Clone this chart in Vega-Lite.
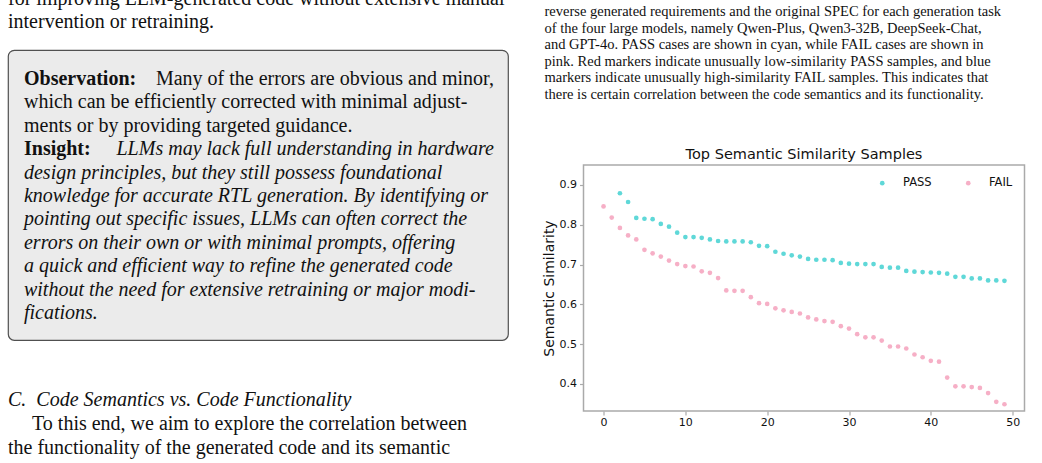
{
  "$schema": "https://vega.github.io/schema/vega-lite/v6.json",
  "padding": {"left": 7, "top": 0, "right": 0, "bottom": 0},
  "background": "white",
  "config": {"view": {"stroke": null}},
  "datasets": {
    "leftTop": [
      {"line": 1, "text": "for improving LLM-generated code without extensive manual"},
      {"line": 2, "text": "intervention or retraining."}
    ],
    "boxLead": [
      {"line": 1, "text": "Observation:"},
      {"line": 4, "text": "Insight:"}
    ],
    "boxLeadRest": [
      {"line": 1, "text": "Many of the errors are obvious and minor,"}
    ],
    "boxBody": [
      {"line": 2, "text": "which can be efficiently corrected with minimal adjust-"},
      {"line": 3, "text": "ments or by providing targeted guidance."}
    ],
    "boxInsightRest": [
      {"line": 4, "text": "LLMs may lack full understanding in hardware"}
    ],
    "boxInsight": [
      {"line": 5, "text": "design principles, but they still possess foundational"},
      {"line": 6, "text": "knowledge for accurate RTL generation. By identifying or"},
      {"line": 7, "text": "pointing out specific issues, LLMs can often correct the"},
      {"line": 8, "text": "errors on their own or with minimal prompts, offering"},
      {"line": 9, "text": "a quick and efficient way to refine the generated code"},
      {"line": 10, "text": "without the need for extensive retraining or major modi-"},
      {"line": 11, "text": "fications."}
    ],
    "heading": [
      {"line": 1, "text": "C.\u00a0\u00a0Code Semantics vs. Code Functionality"}
    ],
    "paragraphStart": [
      {"line": 2, "text": "To this end, we aim to explore the correlation between"}
    ],
    "paragraphBody": [
      {"line": 3, "text": "the functionality of the generated code and its semantic"}
    ],
    "caption": [
      {"line": 1, "text": "reverse generated requirements and the original SPEC for each generation task"},
      {"line": 2, "text": "of the four large models, namely Qwen-Plus, Qwen3-32B, DeepSeek-Chat,"},
      {"line": 3, "text": "and GPT-4o. PASS cases are shown in cyan, while FAIL cases are shown in"},
      {"line": 4, "text": "pink. Red markers indicate unusually low-similarity PASS samples, and blue"},
      {"line": 5, "text": "markers indicate unusually high-similarity FAIL samples. This indicates that"},
      {"line": 6, "text": "there is certain correlation between the code semantics and its functionality."}
    ],
    "samples": [
      {"rank": 2, "similarity": 0.879, "result": "PASS"},
      {"rank": 3, "similarity": 0.857, "result": "PASS"},
      {"rank": 4, "similarity": 0.817, "result": "PASS"},
      {"rank": 5, "similarity": 0.815, "result": "PASS"},
      {"rank": 6, "similarity": 0.814, "result": "PASS"},
      {"rank": 7, "similarity": 0.802, "result": "PASS"},
      {"rank": 8, "similarity": 0.795, "result": "PASS"},
      {"rank": 9, "similarity": 0.780, "result": "PASS"},
      {"rank": 10, "similarity": 0.769, "result": "PASS"},
      {"rank": 11, "similarity": 0.769, "result": "PASS"},
      {"rank": 12, "similarity": 0.767, "result": "PASS"},
      {"rank": 13, "similarity": 0.763, "result": "PASS"},
      {"rank": 14, "similarity": 0.759, "result": "PASS"},
      {"rank": 15, "similarity": 0.758, "result": "PASS"},
      {"rank": 16, "similarity": 0.758, "result": "PASS"},
      {"rank": 17, "similarity": 0.758, "result": "PASS"},
      {"rank": 18, "similarity": 0.756, "result": "PASS"},
      {"rank": 19, "similarity": 0.747, "result": "PASS"},
      {"rank": 20, "similarity": 0.746, "result": "PASS"},
      {"rank": 21, "similarity": 0.732, "result": "PASS"},
      {"rank": 22, "similarity": 0.727, "result": "PASS"},
      {"rank": 23, "similarity": 0.723, "result": "PASS"},
      {"rank": 24, "similarity": 0.720, "result": "PASS"},
      {"rank": 25, "similarity": 0.714, "result": "PASS"},
      {"rank": 26, "similarity": 0.712, "result": "PASS"},
      {"rank": 27, "similarity": 0.712, "result": "PASS"},
      {"rank": 28, "similarity": 0.711, "result": "PASS"},
      {"rank": 29, "similarity": 0.704, "result": "PASS"},
      {"rank": 30, "similarity": 0.702, "result": "PASS"},
      {"rank": 31, "similarity": 0.701, "result": "PASS"},
      {"rank": 32, "similarity": 0.701, "result": "PASS"},
      {"rank": 33, "similarity": 0.701, "result": "PASS"},
      {"rank": 34, "similarity": 0.694, "result": "PASS"},
      {"rank": 35, "similarity": 0.692, "result": "PASS"},
      {"rank": 36, "similarity": 0.692, "result": "PASS"},
      {"rank": 37, "similarity": 0.684, "result": "PASS"},
      {"rank": 38, "similarity": 0.682, "result": "PASS"},
      {"rank": 39, "similarity": 0.681, "result": "PASS"},
      {"rank": 40, "similarity": 0.680, "result": "PASS"},
      {"rank": 41, "similarity": 0.679, "result": "PASS"},
      {"rank": 42, "similarity": 0.677, "result": "PASS"},
      {"rank": 43, "similarity": 0.669, "result": "PASS"},
      {"rank": 44, "similarity": 0.669, "result": "PASS"},
      {"rank": 45, "similarity": 0.665, "result": "PASS"},
      {"rank": 46, "similarity": 0.665, "result": "PASS"},
      {"rank": 47, "similarity": 0.660, "result": "PASS"},
      {"rank": 48, "similarity": 0.660, "result": "PASS"},
      {"rank": 49, "similarity": 0.659, "result": "PASS"},
      {"rank": 0, "similarity": 0.846, "result": "FAIL"},
      {"rank": 1, "similarity": 0.818, "result": "FAIL"},
      {"rank": 2, "similarity": 0.792, "result": "FAIL"},
      {"rank": 3, "similarity": 0.773, "result": "FAIL"},
      {"rank": 4, "similarity": 0.763, "result": "FAIL"},
      {"rank": 5, "similarity": 0.737, "result": "FAIL"},
      {"rank": 6, "similarity": 0.728, "result": "FAIL"},
      {"rank": 7, "similarity": 0.720, "result": "FAIL"},
      {"rank": 8, "similarity": 0.710, "result": "FAIL"},
      {"rank": 9, "similarity": 0.701, "result": "FAIL"},
      {"rank": 10, "similarity": 0.696, "result": "FAIL"},
      {"rank": 11, "similarity": 0.695, "result": "FAIL"},
      {"rank": 12, "similarity": 0.683, "result": "FAIL"},
      {"rank": 13, "similarity": 0.679, "result": "FAIL"},
      {"rank": 14, "similarity": 0.666, "result": "FAIL"},
      {"rank": 15, "similarity": 0.635, "result": "FAIL"},
      {"rank": 16, "similarity": 0.634, "result": "FAIL"},
      {"rank": 17, "similarity": 0.634, "result": "FAIL"},
      {"rank": 18, "similarity": 0.618, "result": "FAIL"},
      {"rank": 19, "similarity": 0.603, "result": "FAIL"},
      {"rank": 20, "similarity": 0.601, "result": "FAIL"},
      {"rank": 21, "similarity": 0.590, "result": "FAIL"},
      {"rank": 22, "similarity": 0.585, "result": "FAIL"},
      {"rank": 23, "similarity": 0.581, "result": "FAIL"},
      {"rank": 24, "similarity": 0.577, "result": "FAIL"},
      {"rank": 25, "similarity": 0.567, "result": "FAIL"},
      {"rank": 26, "similarity": 0.562, "result": "FAIL"},
      {"rank": 27, "similarity": 0.558, "result": "FAIL"},
      {"rank": 28, "similarity": 0.556, "result": "FAIL"},
      {"rank": 29, "similarity": 0.545, "result": "FAIL"},
      {"rank": 30, "similarity": 0.539, "result": "FAIL"},
      {"rank": 31, "similarity": 0.525, "result": "FAIL"},
      {"rank": 32, "similarity": 0.517, "result": "FAIL"},
      {"rank": 33, "similarity": 0.517, "result": "FAIL"},
      {"rank": 34, "similarity": 0.509, "result": "FAIL"},
      {"rank": 35, "similarity": 0.494, "result": "FAIL"},
      {"rank": 36, "similarity": 0.494, "result": "FAIL"},
      {"rank": 37, "similarity": 0.489, "result": "FAIL"},
      {"rank": 38, "similarity": 0.474, "result": "FAIL"},
      {"rank": 39, "similarity": 0.467, "result": "FAIL"},
      {"rank": 40, "similarity": 0.458, "result": "FAIL"},
      {"rank": 41, "similarity": 0.456, "result": "FAIL"},
      {"rank": 42, "similarity": 0.416, "result": "FAIL"},
      {"rank": 43, "similarity": 0.394, "result": "FAIL"},
      {"rank": 44, "similarity": 0.394, "result": "FAIL"},
      {"rank": 45, "similarity": 0.392, "result": "FAIL"},
      {"rank": 46, "similarity": 0.390, "result": "FAIL"},
      {"rank": 47, "similarity": 0.377, "result": "FAIL"},
      {"rank": 48, "similarity": 0.355, "result": "FAIL"},
      {"rank": 49, "similarity": 0.349, "result": "FAIL"}
    ]
  },
  "resolve": {"legend": {"color": "independent"}},
  "spacing": 31.5,
  "hconcat": [
    {
      "spacing": 0,
      "bounds": "flush",
      "vconcat": [
        {
          "width": 500,
          "height": 50,
          "data": {"name": "leftTop"},
          "mark": {"type": "text", "align": "left", "baseline": "middle", "font": "Liberation Serif", "fontSize": 20, "color": "#111111", "clip": true},
          "encoding": {
            "x": {"datum": 0, "type": "quantitative", "scale": {"domain": [0, 1], "nice": false, "zero": false}, "axis": null},
            "y": {"field": "line", "type": "quantitative", "scale": {"domain": [1.04, 3.21], "reverse": true, "nice": false, "zero": false}, "axis": null},
            "text": {"field": "text"}
          }
        },
        {
          "width": 500,
          "height": 290,
          "view": {"fill": "#ebebeb", "stroke": "#505050", "strokeWidth": 1.2, "cornerRadius": 6},
          "encoding": {
            "y": {"field": "line", "type": "quantitative", "scale": {"domain": [-0.239, 12.154], "reverse": true, "nice": false, "zero": false}, "axis": null},
            "text": {"field": "text"}
          },
          "layer": [
            {
              "data": {"name": "boxLead"},
              "mark": {"type": "text", "align": "left", "baseline": "middle", "font": "Liberation Serif", "fontSize": 20, "fontWeight": "bold", "color": "#111111"},
              "encoding": {"x": {"datum": 0, "type": "quantitative", "scale": {"domain": [-0.034, 1.03], "nice": false, "zero": false}, "axis": null}}
            },
            {
              "data": {"name": "boxLeadRest"},
              "mark": {"type": "text", "align": "right", "baseline": "middle", "font": "Liberation Serif", "fontSize": 20, "color": "#111111"},
              "encoding": {"x": {"datum": 1, "type": "quantitative", "scale": {"domain": [-0.034, 1.03], "nice": false, "zero": false}, "axis": null}}
            },
            {
              "data": {"name": "boxBody"},
              "mark": {"type": "text", "align": "left", "baseline": "middle", "font": "Liberation Serif", "fontSize": 20, "color": "#111111"},
              "encoding": {"x": {"datum": 0, "type": "quantitative", "scale": {"domain": [-0.034, 1.03], "nice": false, "zero": false}, "axis": null}}
            },
            {
              "data": {"name": "boxInsightRest"},
              "mark": {"type": "text", "align": "right", "baseline": "middle", "font": "Liberation Serif", "fontSize": 20, "fontStyle": "italic", "color": "#111111"},
              "encoding": {"x": {"datum": 1, "type": "quantitative", "scale": {"domain": [-0.034, 1.03], "nice": false, "zero": false}, "axis": null}}
            },
            {
              "data": {"name": "boxInsight"},
              "mark": {"type": "text", "align": "left", "baseline": "middle", "font": "Liberation Serif", "fontSize": 20, "fontStyle": "italic", "color": "#111111"},
              "encoding": {"x": {"datum": 0, "type": "quantitative", "scale": {"domain": [-0.034, 1.03], "nice": false, "zero": false}, "axis": null}}
            }
          ]
        },
        {
          "width": 500,
          "height": 120,
          "encoding": {
            "y": {"field": "line", "type": "quantitative", "scale": {"domain": [-1.5, 3.5], "reverse": true, "nice": false, "zero": false}, "axis": null},
            "text": {"field": "text"}
          },
          "layer": [
            {
              "data": {"name": "heading"},
              "mark": {"type": "text", "align": "left", "baseline": "middle", "font": "Liberation Serif", "fontSize": 20, "fontStyle": "italic", "color": "#111111"},
              "encoding": {"x": {"datum": 0, "type": "quantitative", "scale": {"domain": [0, 1], "nice": false, "zero": false}, "axis": null}}
            },
            {
              "data": {"name": "paragraphStart"},
              "mark": {"type": "text", "align": "left", "baseline": "middle", "font": "Liberation Serif", "fontSize": 20, "color": "#111111"},
              "encoding": {"x": {"datum": 0.048, "type": "quantitative", "scale": {"domain": [0, 1], "nice": false, "zero": false}, "axis": null}}
            },
            {
              "data": {"name": "paragraphBody"},
              "mark": {"type": "text", "align": "left", "baseline": "middle", "font": "Liberation Serif", "fontSize": 20, "color": "#111111"},
              "encoding": {"x": {"datum": 0, "type": "quantitative", "scale": {"domain": [0, 1], "nice": false, "zero": false}, "axis": null}}
            }
          ]
        }
      ]
    },
    {
      "spacing": 35,
      "resolve": {"legend": {"color": "independent"}},
      "vconcat": [
        {
          "width": 490,
          "height": 110,
          "data": {"name": "caption"},
          "mark": {"type": "text", "align": "left", "baseline": "middle", "font": "Liberation Serif", "fontSize": 14.5, "color": "#111111"},
          "encoding": {
            "x": {"datum": 0, "type": "quantitative", "scale": {"domain": [0.0796, 1.0796], "nice": false, "zero": false}, "axis": null},
            "y": {"field": "line", "type": "quantitative", "scale": {"domain": [0.277, 6.904], "reverse": true, "nice": false, "zero": false}, "axis": null},
            "text": {"field": "text"}
          }
        },
        {
          "width": 441,
          "height": 246,
          "title": {"text": "Top Semantic Similarity Samples", "font": "DejaVu Sans", "fontSize": 14.5, "fontWeight": "normal", "color": "#111111", "offset": 3},
          "view": {"stroke": "#aaaaaa", "strokeWidth": 1.5},
          "data": {"name": "samples"},
          "mark": {"type": "circle", "size": 22, "opacity": 1},
          "encoding": {
            "x": {
              "field": "rank", "type": "quantitative",
              "scale": {"domain": [-2.45, 51.45], "nice": false, "zero": false},
              "axis": {"values": [0, 10, 20, 30, 40, 50], "title": null, "grid": false, "domain": false, "tickColor": "#aaaaaa", "tickSize": 4, "tickWidth": 1.2, "labelFont": "DejaVu Sans", "labelFontSize": 11, "labelColor": "#111111", "labelPadding": 1}
            },
            "y": {
              "field": "similarity", "type": "quantitative",
              "scale": {"domain": [0.332, 0.95], "nice": false, "zero": false},
              "axis": {"values": [0.4, 0.5, 0.6, 0.7, 0.8, 0.9], "format": ".1f", "title": "Semantic Similarity", "grid": false, "domain": false, "tickColor": "#aaaaaa", "tickSize": 4, "tickWidth": 1.2, "labelFont": "DejaVu Sans", "labelFontSize": 11, "labelColor": "#111111", "labelPadding": 3, "titleFont": "DejaVu Sans", "titleFontSize": 14, "titleFontWeight": "normal", "titleColor": "#111111", "titlePadding": 3}
            },
            "color": {
              "field": "result", "type": "nominal",
              "scale": {"domain": ["PASS", "FAIL"], "range": ["#5fd8d8", "#f6afc6"]},
              "legend": {"title": null, "orient": "top-right", "direction": "horizontal", "symbolType": "circle", "symbolSize": 22, "symbolStrokeWidth": 0, "labelFont": "DejaVu Sans", "labelFontSize": 11.5, "labelColor": "#111111", "labelOffset": 15, "columnPadding": 30, "offset": 12}
            }
          }
        }
      ]
    }
  ]
}
